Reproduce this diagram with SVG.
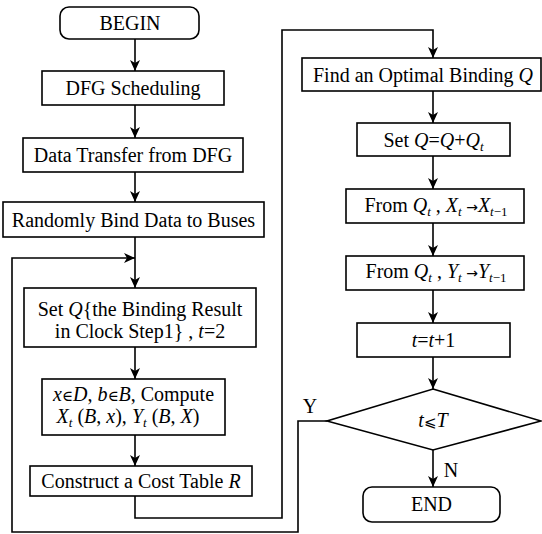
<svg xmlns="http://www.w3.org/2000/svg" width="542" height="534" viewBox="0 0 542 534">
  <defs>
    <marker id="arrow" markerUnits="userSpaceOnUse" markerWidth="12" markerHeight="10" refX="11" refY="5" orient="auto">
      <path d="M0,0 L11,5 L0,10 L3,5 Z" fill="#000"/>
    </marker>
    <style>
      .box { fill: #fff; stroke: #000; stroke-width: 1.6; }
      .arr { fill: none; stroke: #000; stroke-width: 1.6; marker-end: url(#arrow); }
      .lbl { font-family: 'Liberation Serif', 'DejaVu Serif', serif; font-size: 20px; fill: #000; text-anchor: middle; }
      .i { font-style: italic; }
      .sub { font-size: 13px; font-style: italic; }
      .sym { font-size: 15px; }
      .to { font-family: 'DejaVu Sans', sans-serif; font-size: 14px; }
    </style>
  </defs>

  <rect width="542" height="534" fill="#fff"/>

  <!-- connectors -->
  <g id="connectors">
    <line class="arr" x1="135" y1="39" x2="135" y2="71"/>
    <line class="arr" x1="135" y1="105" x2="135" y2="138"/>
    <line class="arr" x1="135" y1="172" x2="135" y2="202"/>
    <line class="arr" x1="135" y1="237" x2="135" y2="288"/>
    <line class="arr" x1="135" y1="347" x2="135" y2="379"/>
    <line class="arr" x1="135" y1="435" x2="135" y2="466"/>
    <!-- cost table to optimal binding -->
    <path class="arr" d="M135,496 V518 H282 V30 H433 V58"/>
    <line class="arr" x1="433" y1="91" x2="433" y2="123"/>
    <line class="arr" x1="433" y1="156" x2="433" y2="189"/>
    <line class="arr" x1="433" y1="223" x2="433" y2="256"/>
    <line class="arr" x1="433" y1="290" x2="433" y2="323"/>
    <line class="arr" x1="433" y1="357" x2="433" y2="389"/>
    <line class="arr" x1="433" y1="450" x2="433" y2="487"/>
    <!-- Y branch back to loop start -->
    <path class="arr" d="M327,421 H298 V532 H12 V258 H135"/>
    <text class="lbl" x="310" y="413">Y</text>
    <text class="lbl" x="451" y="477">N</text>
  </g>

  <g id="begin">
    <rect class="box" x="60" y="7" width="139" height="32" rx="9"/>
    <text class="lbl" x="130" y="30">BEGIN</text>
  </g>

  <g id="dfg-scheduling">
    <rect class="box" x="42" y="71" width="182" height="34"/>
    <text class="lbl" x="133" y="95">DFG Scheduling</text>
  </g>

  <g id="data-transfer">
    <rect class="box" x="23" y="138" width="220" height="34"/>
    <text class="lbl" x="133" y="162">Data Transfer from DFG</text>
  </g>

  <g id="random-bind">
    <rect class="box" x="3" y="202" width="261" height="35"/>
    <text class="lbl" x="133.5" y="227">Randomly Bind Data to Buses</text>
  </g>

  <g id="set-q">
    <rect class="box" x="24" y="288" width="232" height="59"/>
    <text class="lbl" x="140" y="316">Set <tspan class="i">Q</tspan>{the Binding Result</text>
    <text class="lbl" x="140" y="338">in Clock Step1} , <tspan class="i">t</tspan>=2</text>
  </g>

  <g id="compute">
    <rect class="box" x="42" y="379" width="183" height="56"/>
    <text class="lbl" x="133.5" y="401"><tspan class="i">x</tspan><tspan class="sym">∈</tspan><tspan class="i">D</tspan>, <tspan class="i">b</tspan><tspan class="sym">∈</tspan><tspan class="i">B</tspan>, Compute</text>
    <text class="lbl" x="128" y="423"><tspan class="i">X</tspan><tspan class="sub" dy="4">t</tspan><tspan dy="-4"> (</tspan><tspan class="i">B</tspan>, <tspan class="i">x</tspan>), <tspan class="i">Y</tspan><tspan class="sub" dy="4">t</tspan><tspan dy="-4"> (</tspan><tspan class="i">B</tspan>, <tspan class="i">X</tspan>)</text>
  </g>

  <g id="cost-table">
    <rect class="box" x="30" y="466" width="222" height="30"/>
    <text class="lbl" x="141" y="488">Construct a Cost Table <tspan class="i">R</tspan></text>
  </g>

  <g id="optimal-binding">
    <rect class="box" x="302" y="58" width="239" height="33"/>
    <text class="lbl" x="423" y="82">Find an Optimal Binding <tspan class="i">Q</tspan></text>
  </g>

  <g id="update-q">
    <rect class="box" x="357" y="123" width="153" height="33"/>
    <text class="lbl" x="433.5" y="147">Set <tspan class="i">Q</tspan>=<tspan class="i">Q</tspan>+<tspan class="i">Q</tspan><tspan class="sub" dy="4">t</tspan></text>
  </g>

  <g id="update-x">
    <rect class="box" x="346" y="189" width="178" height="34"/>
    <text class="lbl" x="436" y="212">From <tspan class="i">Q</tspan><tspan class="sub" dy="4">t</tspan><tspan dy="-4"> , </tspan><tspan class="i">X</tspan><tspan class="sub" dy="4">t</tspan><tspan class="to" dy="-4"> →</tspan><tspan class="i">X</tspan><tspan class="sub" dy="4">t</tspan><tspan font-size="13">−1</tspan></text>
  </g>

  <g id="update-y">
    <rect class="box" x="346" y="256" width="178" height="34"/>
    <text class="lbl" x="436" y="278">From <tspan class="i">Q</tspan><tspan class="sub" dy="4">t</tspan><tspan dy="-4"> , </tspan><tspan class="i">Y</tspan><tspan class="sub" dy="4">t</tspan><tspan class="to" dy="-4"> →</tspan><tspan class="i">Y</tspan><tspan class="sub" dy="4">t</tspan><tspan font-size="13">−1</tspan></text>
  </g>

  <g id="increment-t">
    <rect class="box" x="357" y="323" width="153" height="34"/>
    <text class="lbl" x="433.5" y="347"><tspan class="i">t</tspan>=<tspan class="i">t</tspan>+1</text>
  </g>

  <g id="check-t">
    <polygon class="box" points="433,389 541,421 433,450 327,421"/>
    <text class="lbl" x="433" y="427"><tspan class="i">t</tspan><tspan font-family="DejaVu Sans, sans-serif" font-size="15">⩽</tspan><tspan class="i">T</tspan></text>
  </g>

  <g id="end">
    <rect class="box" x="363" y="487" width="137" height="35" rx="9"/>
    <text class="lbl" x="431.5" y="511">END</text>
  </g>
</svg>
